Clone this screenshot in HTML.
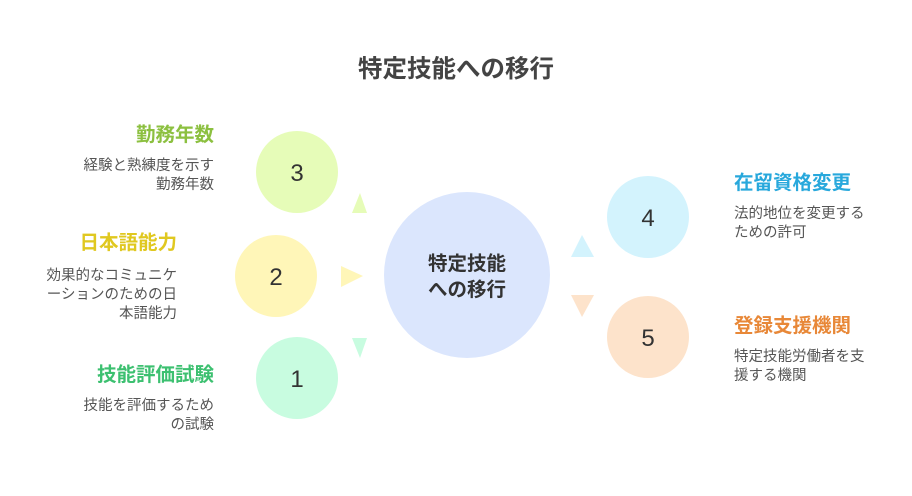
<!DOCTYPE html>
<html><head><meta charset="utf-8"><style>
body{margin:0;background:#fff;}
svg text{font-family:"Liberation Sans","Noto Sans CJK JP",sans-serif;}
</style></head><body>
<svg width="912" height="491" viewBox="0 0 912 491" xmlns="http://www.w3.org/2000/svg">
<rect width="912" height="491" fill="#fff"/>
<text x="456" y="77" text-anchor="middle" font-size="24.5" font-weight="bold" fill="#444">特定技能への移行</text>
<circle cx="467" cy="275" r="83" fill="#dbe6fd"/>
<text x="467" y="270" text-anchor="middle" font-size="19.5" font-weight="bold" fill="#333">特定技能</text>
<text x="467" y="296" text-anchor="middle" font-size="19.5" font-weight="bold" fill="#333">への移行</text>
<circle cx="297" cy="172" r="41" fill="#e6fcb8"/>
<circle cx="276" cy="276" r="41" fill="#fff6b8"/>
<circle cx="297" cy="378" r="41" fill="#c8fce0"/>
<circle cx="648" cy="217" r="41" fill="#d3f3fd"/>
<circle cx="648" cy="337" r="41" fill="#fde3cb"/>
<g font-size="24" fill="#333" text-anchor="middle">
<text x="297" y="181">3</text><text x="276" y="285">2</text><text x="297" y="387">1</text>
<text x="648" y="226">4</text><text x="648" y="346">5</text></g>
<polygon points="352,213 367,213 360,193" fill="#e6fcb8"/>
<polygon points="341,266 341,287 363,276" fill="#fff6b8"/>
<polygon points="352,338 367,338 360,358" fill="#c8fce0"/>
<polygon points="571,257 594,257 582,235" fill="#d3f3fd"/>
<polygon points="571,295 594,295 582,317" fill="#fde3cb"/>
<g font-size="19.5" font-weight="bold" text-anchor="end">
<text x="214" y="141" fill="#8cc040">勤務年数</text>
<text x="177" y="249" fill="#e0c820">日本語能力</text>
<text x="214" y="381" fill="#3cc070">技能評価試験</text></g>
<g font-size="14.5" fill="#555" text-anchor="end">
<text x="214" y="170">経験と熟練度を示す</text><text x="214" y="189">勤務年数</text>
<text x="177" y="280">効果的なコミュニケ</text><text x="177" y="299">ーションのための日</text><text x="177" y="318">本語能力</text>
<text x="214" y="410">技能を評価するため</text><text x="214" y="429">の試験</text></g>
<g font-size="19.5" font-weight="bold">
<text x="734" y="189" fill="#28a8dc">在留資格変更</text>
<text x="734" y="332" fill="#e88838">登録支援機関</text></g>
<g font-size="14.5" fill="#555">
<text x="734" y="218">法的地位を変更する</text><text x="734" y="237">ための許可</text>
<text x="734" y="361">特定技能労働者を支</text><text x="734" y="380">援する機関</text></g>
</svg>
</body></html>
